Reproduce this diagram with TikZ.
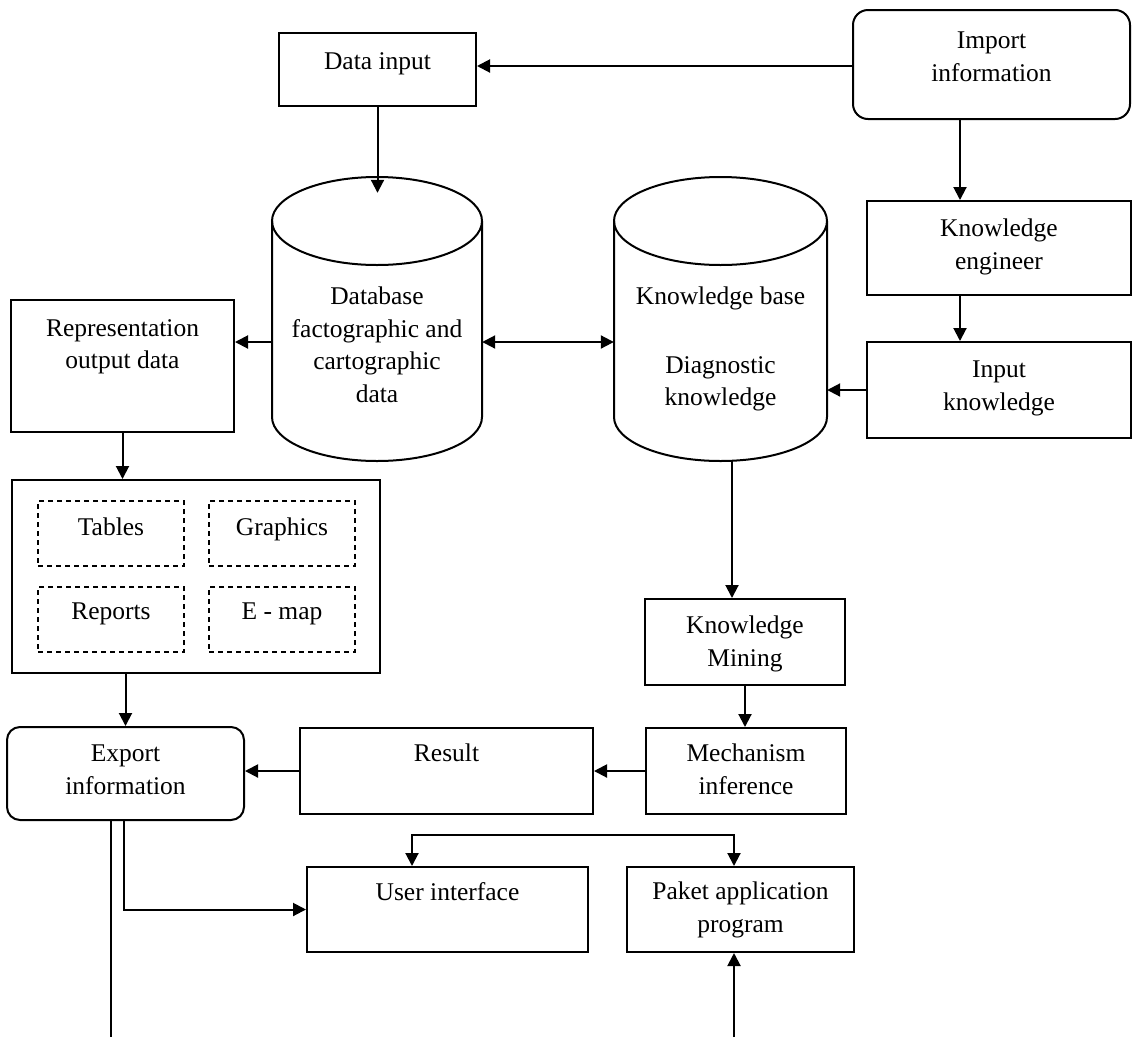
\documentclass[tikz,border=0pt]{standalone}
\usepackage{fontspec}
\setmainfont{Liberation Serif}
\usetikzlibrary{arrows.meta,calc}
\begin{document}
\begin{tikzpicture}[x=1pt,y=-1pt,
  every node/.style={font=\fontsize{25.5}{32.5}\selectfont},
  box/.style={draw, line width=2pt, inner sep=0pt},
  rbox/.style={box, rounded corners=14pt},
  dbox/.style={draw, line width=1.5pt, dash pattern=on 5pt off 4pt, inner sep=0pt},
  ghost/.style={inner sep=0pt},
  txt/.style={anchor=north, inner sep=0pt, align=center, font=\fontsize{25.5}{32.5}\selectfont},
  arr/.style={line width=2pt, -{Triangle[length=13pt,width=13pt]}},
  darr/.style={line width=2pt, {Triangle[length=13pt,width=13pt]}-{Triangle[length=13pt,width=13pt]}},
  ln/.style={line width=2pt}
]
\useasboundingbox (0,0) rectangle (1132,1037);

% boxes
\node[box, minimum width=197pt, minimum height=73pt,
  label={[txt, yshift=-20pt]north:Data input}] (din) at (377.5,69.5) {};
\node[rbox, rounded corners=15pt, minimum width=277pt, minimum height=109pt,
  label={[txt, yshift=-23pt]north:Import\\information}] (imp) at (991.5,64.5) {};
\node[box, minimum width=264pt, minimum height=94pt,
  label={[txt, yshift=-19pt]north:Knowledge\\engineer}] (ke) at (999,248) {};
\node[box, minimum width=264pt, minimum height=96pt,
  label={[txt, yshift=-20pt]north:Input\\knowledge}] (ink) at (999,390) {};
\node[box, minimum width=223pt, minimum height=132pt,
  label={[txt, yshift=-20pt]north:Representation\\output data}] (rep) at (122.5,366) {};
\node[box, minimum width=368pt, minimum height=193pt] (big) at (196,576.5) {};
\node[dbox, minimum width=146pt, minimum height=65pt,
  label={[txt, yshift=-17pt]north:Tables}] (tab) at (111,533.5) {};
\node[dbox, minimum width=146pt, minimum height=65pt,
  label={[txt, yshift=-17pt]north:Graphics}] (gra) at (282,533.5) {};
\node[dbox, minimum width=146pt, minimum height=65pt,
  label={[txt, yshift=-16pt]north:Reports}] (rpt) at (111,619.5) {};
\node[dbox, minimum width=146pt, minimum height=65pt,
  label={[txt, yshift=-16pt]north:E - map}] (emap) at (282,619.5) {};
\node[rbox, rounded corners=13pt, minimum width=237pt, minimum height=93pt,
  label={[txt, yshift=-19pt]north:Export\\information}] (exp) at (125.5,773.5) {};
\node[box, minimum width=293pt, minimum height=86pt,
  label={[txt, yshift=-17pt]north:Result}] (res) at (446.5,771) {};
\node[box, minimum width=200pt, minimum height=86pt,
  label={[txt, yshift=-17pt]north:Mechanism\\inference}] (mech) at (746,771) {};
\node[box, minimum width=200pt, minimum height=86pt,
  label={[txt, yshift=-18pt]north:Knowledge\\Mining}] (km) at (745,642) {};
\node[box, minimum width=281pt, minimum height=85pt,
  label={[txt, yshift=-16pt]north:User interface}] (ui) at (447.5,909.5) {};
\node[box, minimum width=227pt, minimum height=85pt,
  label={[txt, yshift=-16pt]north:Paket application\\program}] (paket) at (740.5,909.5) {};

% cylinders
\node[ghost, minimum width=210pt, minimum height=284pt,
  label={[txt, yshift=-110pt]north:Database\\factographic and\\cartographic\\data}] (db) at (377,319) {};
\node[ghost, minimum width=213pt, minimum height=284pt,
  label={[txt, yshift=-110pt]north:Knowledge base\\[36pt]Diagnostic\\knowledge}] (kb) at (720.5,319) {};
\draw[ln] (377,221) ellipse [x radius=105pt, y radius=44pt];
\draw[ln] (272,221) -- (272,417) arc[start angle=180, end angle=360, x radius=105pt, y radius=44pt] -- (482,221);
\draw[ln] (720.5,221) ellipse [x radius=106.5pt, y radius=44pt];
\draw[ln] (614,221) -- (614,417) arc[start angle=180, end angle=360, x radius=106.5pt, y radius=44pt] -- (827,221);

% free ends
\coordinate (exend) at (111,1037);
\coordinate (pin) at (734,1037);

% connectors
\draw[arr] ([yshift=-1.5pt]imp.west) -- ([yshift=-1.5pt]imp.west -| din.east);
\draw[arr] (din.south) -- ([yshift=-16pt]din.south |- db.north);
\draw[arr] ([xshift=-31.5pt]imp.south) -- ([xshift=-39pt]ke.north);
\draw[arr] ([xshift=-39pt]ke.south) -- ([xshift=-39pt]ink.north);
\draw[arr] (ink.west) -- (ink.west -| kb.east);
\draw[darr] ([yshift=-23pt]db.east) -- ([yshift=-23pt]kb.west);
\draw[arr] ([yshift=-23pt]db.west) -- ([yshift=-23pt]db.west -| rep.east);
\draw[arr] (rep.south) -- (rep.south |- big.north);
\draw[arr] (exp.north |- big.south) -- (exp.north);
\draw[arr] ([xshift=11.5pt]kb.south) -- ([xshift=11.5pt]kb.south |- km.north);
\draw[arr] (km.south) -- (km.south |- mech.north);
\draw[arr] (mech.west) -- (mech.west -| res.east);
\draw[arr] (res.west) -- (res.west -| exp.east);
\draw[arr] ([xshift=-1.5pt]exp.south) |- (ui.west);
\draw[ln] ([xshift=-14.5pt]exp.south) -- (exend);
\draw[darr] ([xshift=-35.5pt]ui.north) -- ++(0,-31) -| ([xshift=-6.5pt]paket.north);
\draw[arr] (pin) -- ([xshift=-6.5pt]paket.south);
\end{tikzpicture}
\end{document}
